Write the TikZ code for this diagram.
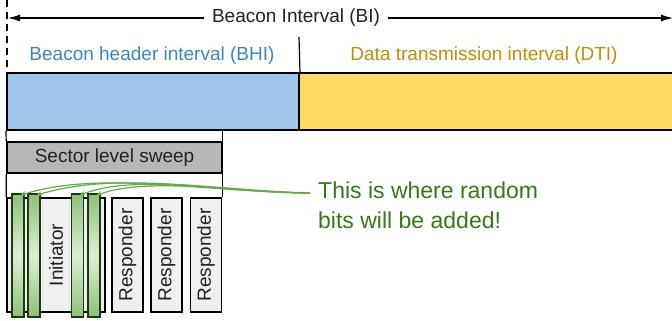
\documentclass[tikz,border=0pt]{standalone}
\usepackage{fontspec}
\setmainfont{Liberation Sans}
\usetikzlibrary{arrows.meta}
\definecolor{bhifill}{HTML}{9FC5E8}
\definecolor{bhitext}{HTML}{3D85C6}
\definecolor{dtifill}{HTML}{FFD966}
\definecolor{dtitext}{HTML}{BF9000}
\definecolor{slsfill}{HTML}{B7B7B7}
\definecolor{boxfill}{HTML}{EFEFEF}
\definecolor{gdark}{HTML}{8FC079}
\definecolor{glight}{HTML}{DCEDD5}
\definecolor{gborder}{HTML}{1E3A10}
\definecolor{gline}{HTML}{6AA84F}
\definecolor{gtext}{HTML}{38761D}
\definecolor{ink}{HTML}{222222}
\tikzset{
  txt/.style={font=\fontsize{19}{22}\selectfont},
  bigbox/.style={draw=black, line width=2pt, inner sep=0pt},
  slot/.style={draw=black, line width=1.3pt, fill=boxfill, inner sep=0pt, minimum width=31pt, minimum height=114pt},
  gbar/.style={draw=gborder, line width=1.2pt, top color=gdark, bottom color=gdark, middle color=glight, inner sep=0pt, minimum width=12pt, minimum height=123pt},
  thin/.style={draw=black, line width=1.2pt},
  garrow/.style={draw=gline, line width=1.2pt, -{Stealth[length=6pt,width=5pt]}},
}
\begin{document}
\begin{tikzpicture}[x=1pt,y=-1pt]
\useasboundingbox (0,0) rectangle (672,321);
% top interval arrow
\node[txt, text=ink, inner sep=2pt] (bi) at (296,18) {Beacon Interval (BI)};
\coordinate (dtop) at (7,0);
\coordinate (dbot) at (7,73);
\draw[black, line width=1.8pt, dash pattern=on 7pt off 5pt] (dtop) -- (dbot);
\coordinate (lend) at (8,18);
\coordinate (rend) at (673,18);
\draw[line width=1.2pt, -{Latex[length=12pt,width=7pt]}] (bi.west) ++(-6,0) -- (lend);
\draw[line width=1.2pt, -{Latex[length=12pt,width=7pt]}] (bi.east) ++(6,0) -- (rend);
% interval boxes
\node[bigbox, fill=bhifill, minimum width=292pt, minimum height=57pt] (bhi) at (153,101.5) {};
\node[bigbox, fill=dtifill, minimum width=380pt, minimum height=57pt] (dti) at (489,101.5) {};
\node[txt, text=bhitext] (bhil) at (152,56) {Beacon header interval (BHI)};
\node[txt, text=dtitext] (dtil) at (484,56) {Data transmission interval (DTI)};
\coordinate (sepTop) at (299,37);
\draw[thin] (sepTop) -- (bhi.north east);
% sector level sweep
\node[bigbox, line width=1.6pt, fill=slsfill, minimum width=215pt, minimum height=31pt, txt, text=ink] (sls) at (114.5,157.5) {Sector level sweep};
\draw[thin] (bhi.south west) -- (sls.north west);
\draw[thin] (sls.north east |- bhi.south) -- (sls.north east);
% slots
\node[slot, minimum width=98pt] (init) at (56,255) {};
\node[txt, text=ink, rotate=90] (initl) at (56,255) {Initiator};
\node[slot, txt, text=ink] (r1) at (127.5,255) {\rotatebox{90}{Responder}};
\node[slot, txt, text=ink] (r2) at (166.5,255) {\rotatebox{90}{Responder}};
\node[slot, txt, text=ink] (r3) at (206,255) {\rotatebox{90}{Responder}};
\draw[thin] (sls.south west) -- (init.north west);
\draw[thin] (sls.south east) -- (sls.south east |- r3.north);
\node[gbar] (g1) at (18,255.5) {};
\node[gbar] (g2) at (34,255.5) {};
\node[gbar] (g3) at (77.5,255.5) {};
\node[gbar] (g4) at (94,255.5) {};
% callout
\node[txt, font=\fontsize{23}{30}\selectfont, text=gtext, align=left, anchor=north west, inner sep=0pt] (note) at (318,182) {This is where random\\bits will be added!};
\coordinate (call) at (310,193);
\draw[garrow] (call) .. controls (200,192) and (100,170) .. ([xshift=2pt,yshift=-2pt]g1.north);
\draw[garrow] (call) .. controls (210,190) and (115,171) .. ([xshift=2pt,yshift=-2pt]g2.north);
\draw[garrow] (call) .. controls (230,193) and (135,173) .. ([xshift=2pt,yshift=-2pt]g3.north);
\draw[garrow] (call) .. controls (240,193) and (150,176) .. ([xshift=2pt,yshift=-2pt]g4.north);
\end{tikzpicture}
\end{document}
